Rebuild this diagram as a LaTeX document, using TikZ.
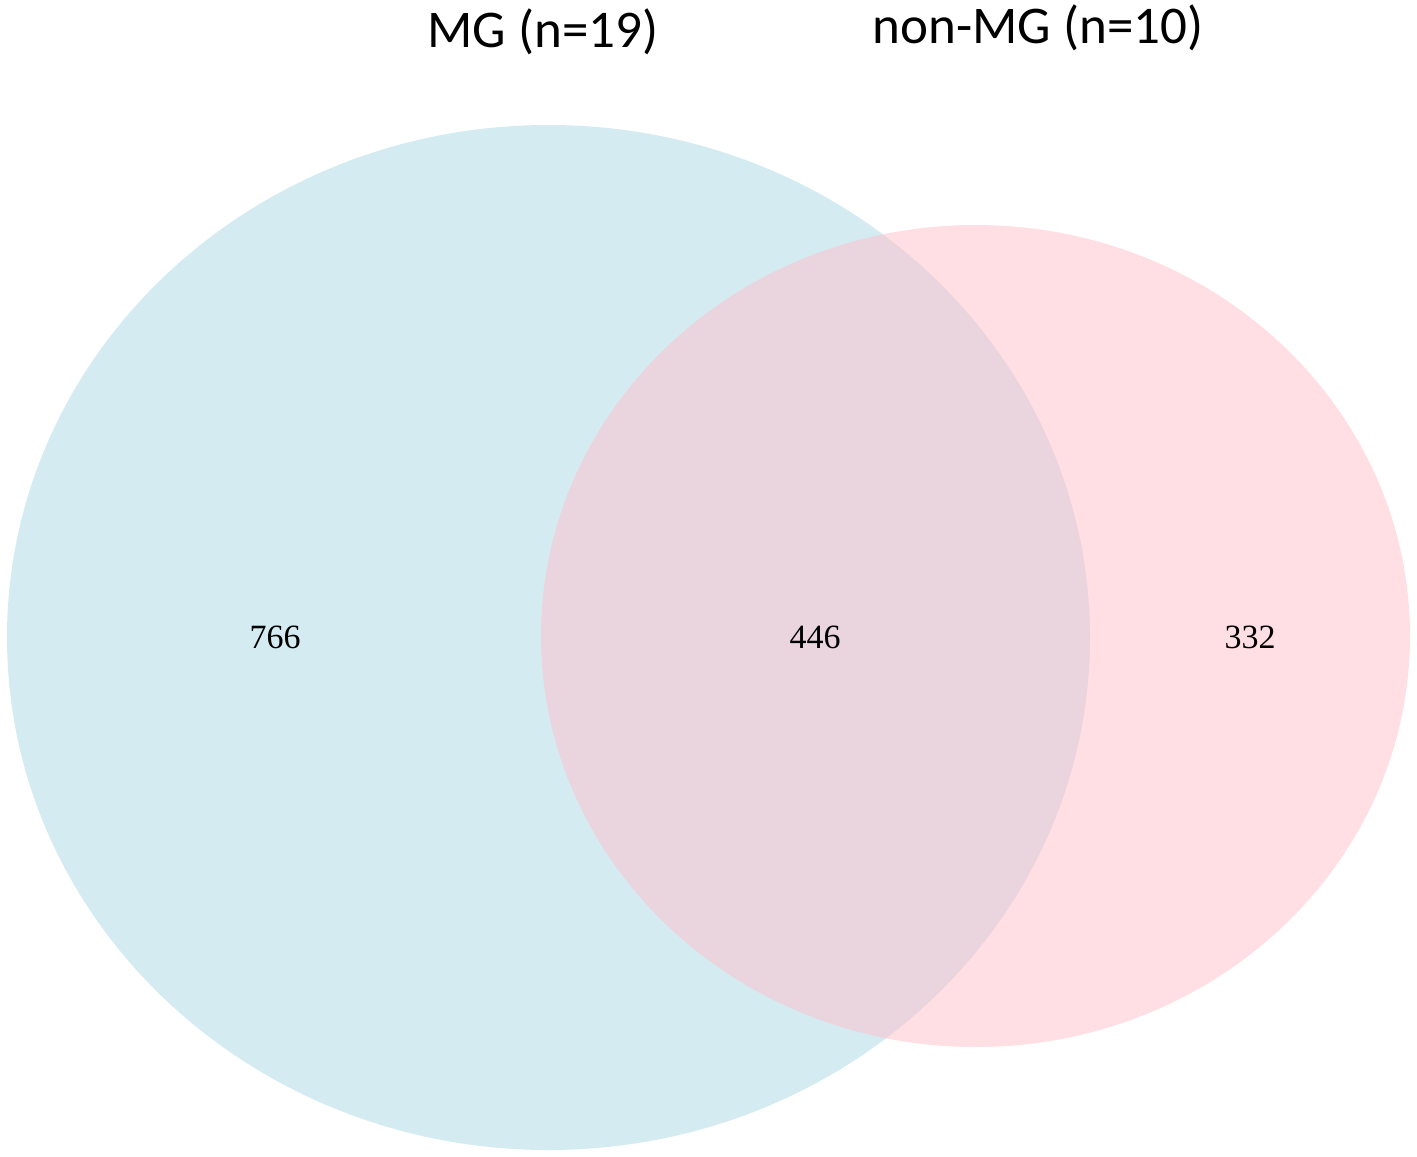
\documentclass[tikz,border=0pt]{standalone}
\usepackage{fontspec}
\setmainfont{Liberation Serif}
\newfontfamily\labfont{Carlito}
\definecolor{mgblue}{RGB}{173,216,230}
\definecolor{nonpink}{RGB}{255,192,203}
\tikzset{
  setfill/.style={fill opacity=0.5, draw=none},
  title/.style={font=\labfont\fontsize{53}{63}\selectfont, anchor=base, inner sep=0pt},
  count/.style={font=\fontsize{34}{40}\selectfont, inner sep=0pt}
}
\begin{document}
\begin{tikzpicture}[x=1pt,y=-1pt]
\useasboundingbox (0,0) rectangle (1417,1157);
\fill[white] (0,0) rectangle (1417,1157);
\fill[mgblue, setfill] (548.5,637.5) ellipse [x radius=541.5, y radius=512.5];
\fill[nonpink, setfill] (975.5,636) ellipse [x radius=434.5, y radius=411];
\node[title] (mg) at (543,47) {MG (n=19)};
\node[title] (nonmg) at (1038,43) {non-MG (n=10)};
\node[count] (a) at (275,637) {766};
\node[count] (b) at (815,637) {446};
\node[count] (c) at (1250,637) {332};
\end{tikzpicture}
\end{document}
